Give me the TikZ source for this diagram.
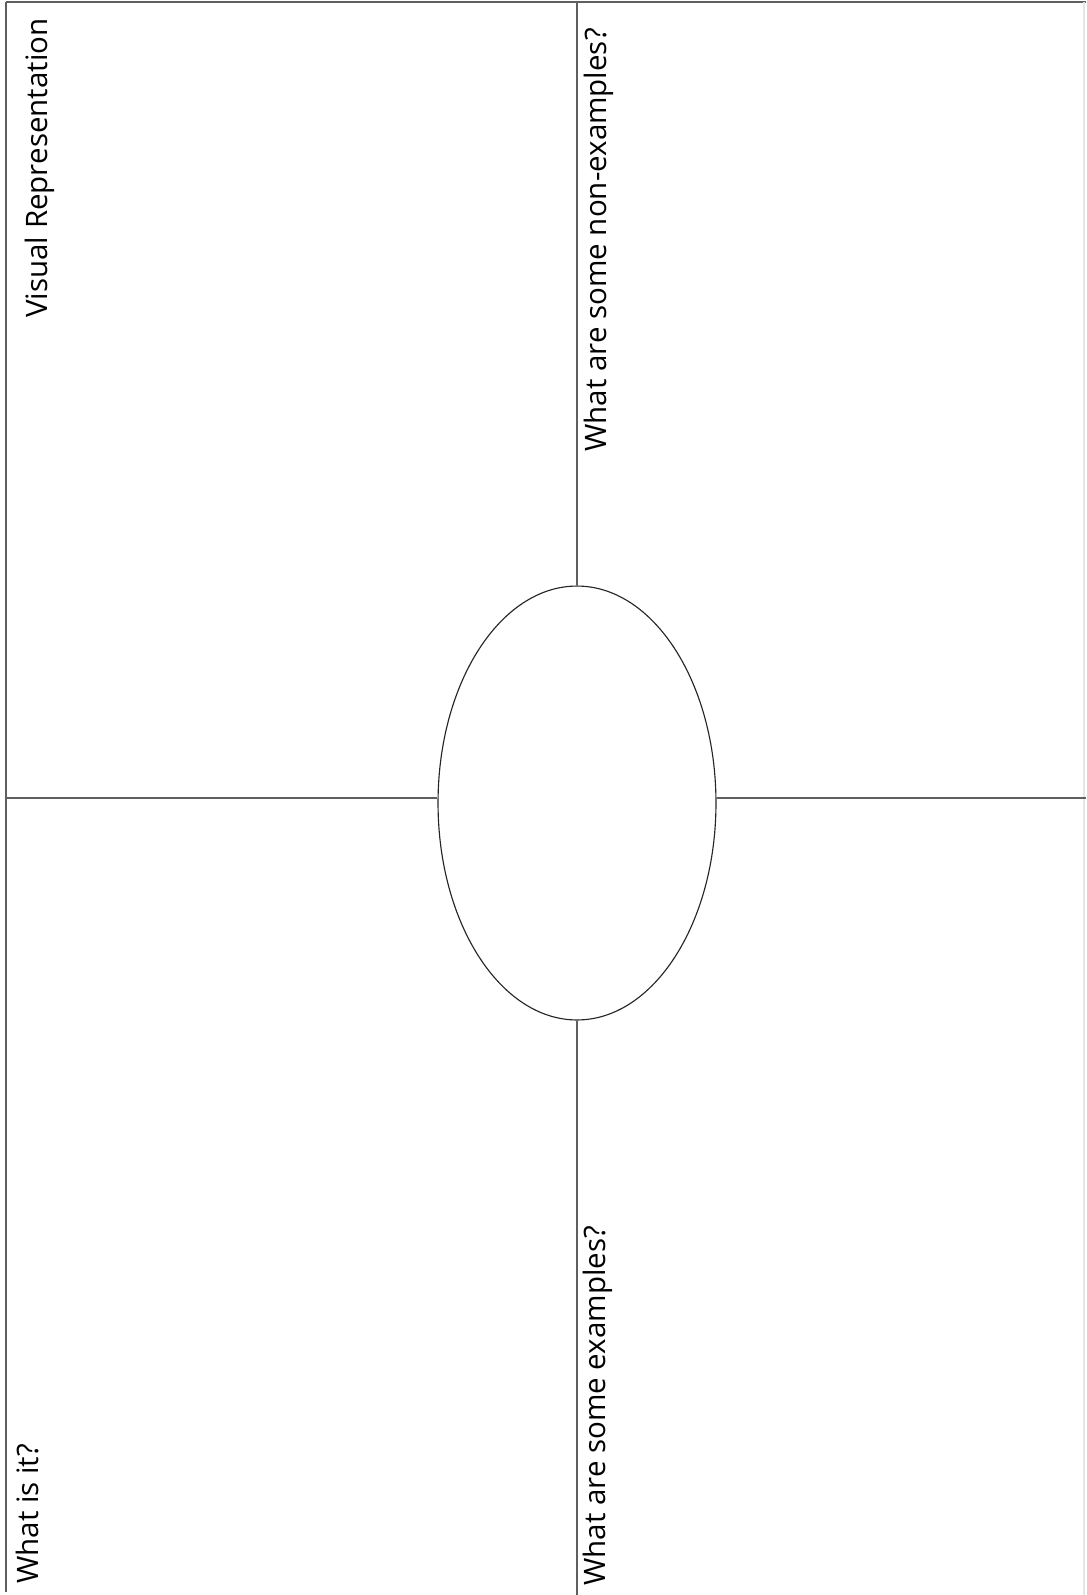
\documentclass[tikz,border=0pt]{standalone}
\usepackage{fontspec}
\setmainfont{Open Sans}
\usetikzlibrary{shapes.geometric, positioning}
\definecolor{rule}{RGB}{95,95,95}
\tikzstyle{centre}  = [ellipse, minimum width=5.56cm, minimum height=8.68cm,
                        inner sep=0pt, draw=black!85, line width=0.65pt]
\tikzstyle{prompt}  = [rotate=90, anchor=base west, inner sep=0pt,
                        font=\fontsize{16.8}{20}\selectfont]
\tikzstyle{divider} = [draw=rule, line width=0.6pt]

\begin{document}
\begin{tikzpicture}[x=0.02cm, y=-0.02cm]
  \useasboundingbox (0,0) rectangle (1086,1595);
  \coordinate (topleft)  at (6,2);
  \coordinate (topright) at (1086,2);
  \coordinate (botleft)  at (6,1592);
  \coordinate (midline)  at (1086,798);
  \coordinate (botend)   at (576,1595);

  \node (hub) [centre] at (577,803) {};

  % frame
  \draw[divider] (topleft) -- (topright);
  \draw[divider] (topleft) -- (botleft);
  \draw[draw=gray!20, line width=0.6pt] (1084,2) -- (1084,1595);

  % quadrant lines
  \draw[divider] (hub.north) -- (hub.north |- topleft);
  \draw[divider] (hub.south) -- (hub.south |- botend);
  \draw[divider] (hub.west |- midline) -- (topleft |- midline);
  \draw[divider] (hub.east |- midline) -- (midline);

  \node (visual)   [prompt] at (47,318)   {Visual Representation};
  \node (nonex)    [prompt] at (606,452)  {What are some non-examples?};
  \node (whatis)   [prompt] at (38,1584)  {What is it?};
  \node (examples) [prompt] at (605,1586) {What are some examples?};
\end{tikzpicture}
\end{document}
